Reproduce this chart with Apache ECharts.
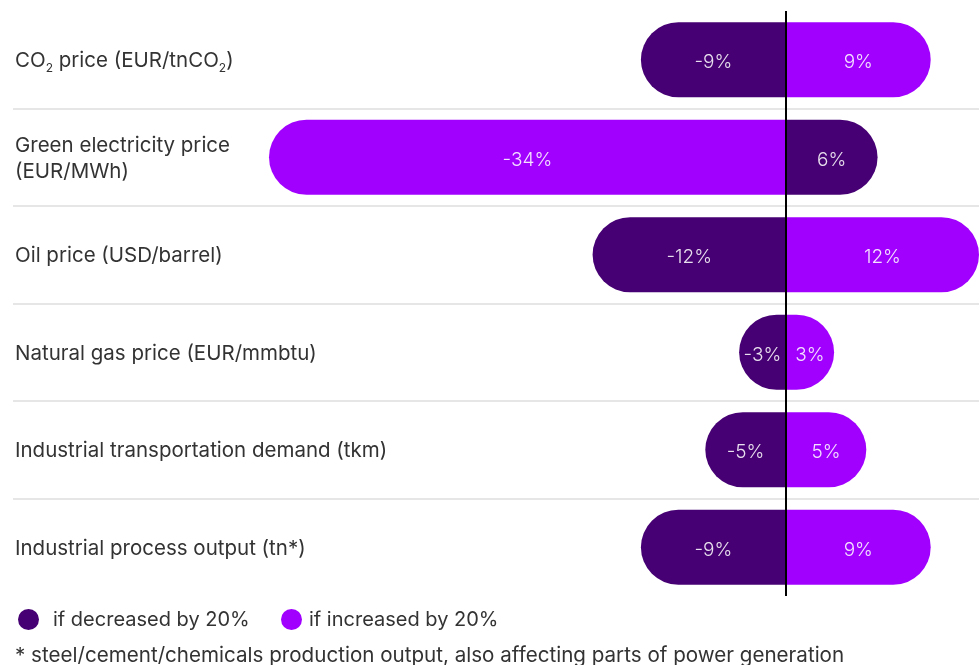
<!DOCTYPE html>
<html>
<head>
<meta charset="utf-8">
<script src="https://cdn.jsdelivr.net/npm/echarts@6/dist/echarts.min.js"></script>
<style>html,body{margin:0;padding:0;background:#fff;}#chart{width:980px;height:665px;}</style>
</head>
<body>
<div id="chart"></div>
<script>
const categories = [
  'CO2 price (EUR/tnCO2)',
  'Green electricity price\n(EUR/MWh)',
  'Oil price (USD/barrel)',
  'Natural gas price (EUR/mmbtu)',
  'Industrial transportation demand (tkm)',
  'Industrial process output (tn*)'
];
const seriesNames = ['if decreased by 20%', 'if increased by 20%'];
// bar values
const decreasedValues = [-9, 5.7, -12, -2.9, -5, -9];
const increasedValues = [9, -32.1, 12, 3, 5, 9];
// printed labels
const decreasedLabels = ['-9%', '6%', '-12%', '-3%', '-5%', '-9%'];
const increasedLabels = ['9%', '-34%', '12%', '3%', '5%', '9%'];
const footnote = '* steel/cement/chemicals production output, also affecting parts of power generation';

const DARK = '#460073', BRIGHT = '#A100FF';
const FONT = 'Inter';
const FS = 20.5;
const R = 37.5;

function toData(vals) {
  return vals.map(v => ({
    value: v,
    itemStyle: { borderRadius: v < 0 ? [R, 0, 0, R] : [0, R, R, 0] }
  }));
}
function mkLabel(labels) {
  return {
    show: true, position: 'inside', offset: [0, 3],
    color: 'rgba(255,255,255,0.88)', fontSize: 19, fontWeight: 300, fontFamily: FONT,
    formatter: p => labels[p.dataIndex]
  };
}

const chart = echarts.init(document.getElementById('chart'));
chart.setOption({
  animation: false,
  textStyle: { fontFamily: FONT },
  title: {
    text: footnote, left: 15, top: 645, padding: 0,
    textStyle: { fontSize: 20.6, fontWeight: 'normal', color: '#333', fontFamily: FONT }
  },
  legend: [
    { data: [seriesNames[0]], left: 18, top: 609, padding: 0, icon: 'circle', itemWidth: 21, itemHeight: 21,
      textStyle: { fontSize: 20, color: '#333', padding: [2, 0, 0, 9], fontFamily: FONT } },
    { data: [seriesNames[1]], left: 281, top: 609, padding: 0, icon: 'circle', itemWidth: 21, itemHeight: 21,
      textStyle: { fontSize: 20, color: '#333', padding: [2, 0, 0, 2], fontFamily: FONT } }
  ],
  grid: { left: 13, right: 1, top: 11, bottom: 69 },
  xAxis: {
    type: 'value', min: -48, max: 12, show: false
  },
  yAxis: {
    type: 'category', data: categories, inverse: true,
    axisLine: { show: false }, axisTick: { show: false },
    splitLine: { show: true, showMinLine: false, showMaxLine: false,
      lineStyle: { color: '#e6e6e6', width: 2 } },
    axisLabel: {
      align: 'left', margin: -2, color: '#333', fontSize: FS, lineHeight: 26, fontFamily: FONT,
      padding: [3, 0, 0, 0],
      formatter: v => v.replace(/CO2/g, '{n|CO}{s|2}'),
      rich: {
        n: { fontSize: FS, color: '#333', fontFamily: FONT },
        s: { fontSize: 12, color: '#333', fontFamily: FONT, padding: [14, 0, 0, 0] }
      }
    }
  },
  series: [
    { name: seriesNames[0], type: 'bar', stack: 'a', barWidth: 75, color: DARK,
      data: toData(decreasedValues), label: mkLabel(decreasedLabels) },
    { name: seriesNames[1], type: 'bar', stack: 'a', barWidth: 75, color: BRIGHT,
      data: toData(increasedValues), label: mkLabel(increasedLabels),
      markLine: { silent: true, symbol: 'none', label: { show: false },
        lineStyle: { color: '#000', width: 2, type: 'solid' }, data: [{ xAxis: 0 }] } }
  ]
});
</script>
</body>
</html>
